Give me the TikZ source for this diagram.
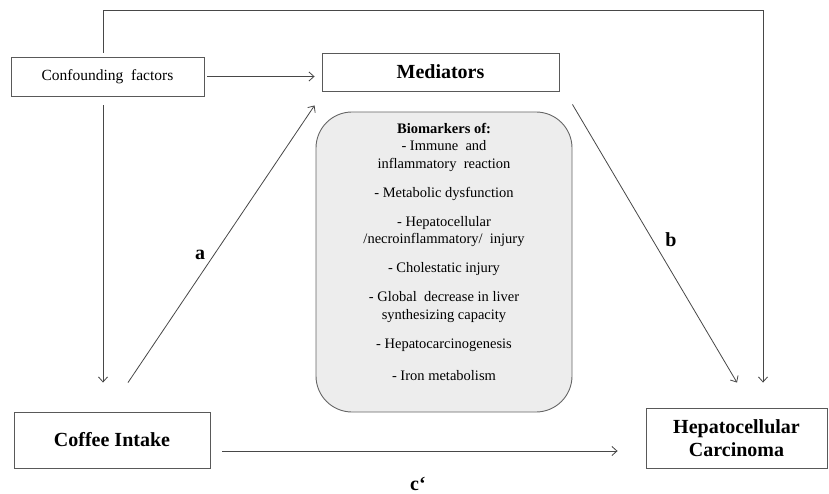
\documentclass[tikz,border=0pt]{standalone}
\usepackage{fontspec}
\setmainfont{Liberation Serif}
\usetikzlibrary{arrows.meta}

\tikzset{
  box/.style={draw=black!65, line width=0.9pt, inner sep=0pt, align=center},
  arr/.style={-{Straight Barb[length=5pt,width=9pt]}, draw=black!72, line width=0.8pt},
  big/.style={font=\fontsize{20}{23}\selectfont\bfseries},
}

\begin{document}
\begin{tikzpicture}[x=1pt,y=-1pt]
  \useasboundingbox (0,0) rectangle (829,494);
  % boxes
  \node[box, minimum width=193pt, minimum height=39pt, font=\fontsize{15.5}{18}\selectfont] (conf) at (107.5,76.5) {Confounding\ \ factors};
  \node[box, big, minimum width=237pt, minimum height=38pt] (med) at (440.5,72) {Mediators};
  \node[box, big, minimum width=196pt, minimum height=56pt] (coffee) at (112,440) {Coffee Intake};
  \node[box, big, minimum width=181pt, minimum height=60pt] (hcc) at (736.5,438) {Hepatocellular\\Carcinoma};
  \node[draw=black!60, line width=0.9pt, fill=black!7, rounded corners=36pt, minimum width=256pt, minimum height=300pt] (bio) at (444,262) {};
  \node[anchor=north, align=center, font=\fontsize{14.5}{17.5}\selectfont] (biotext) at ([yshift=-8pt]bio.north)
    {\textbf{Biomarkers of:}\\- Immune\ \ and\\inflammatory\ \ reaction\\[11.5pt]
     - Metabolic dysfunction\\[11.5pt]
     - Hepatocellular\\/necroinflammatory/\ \ injury\\[11.5pt]
     - Cholestatic injury\\[11.5pt]
     - Global\ \ decrease in liver\\synthesizing capacity\\[11.5pt]
     - Hepatocarcinogenesis\\[15pt]
     - Iron metabolism};
  % arrows
  \draw[arr] ([xshift=3pt]conf.east) -- ([xshift=-7pt]med.west |- conf.east);
  \draw[arr] ([xshift=-4.5pt,yshift=-9pt]conf.south) -- ([xshift=-9pt,yshift=29pt]coffee.north);
  \draw[arr] ([xshift=-4.5pt,yshift=4pt]conf.north) -- ++(0,-42) -| ([xshift=26.5pt,yshift=25pt]hcc.north);
  \draw[arr] ([xshift=16pt,yshift=29pt]coffee.north) -- ([xshift=-7pt,yshift=-14pt]med.south west);
  \draw[arr] ([xshift=13pt,yshift=-13pt]med.south east) -- ([xshift=0.5pt,yshift=25pt]hcc.north);
  \draw[arr] ([xshift=12pt,yshift=-11pt]coffee.east) coordinate (cstart) -- ([xshift=-28pt]hcc.west |- cstart);
  % path labels
  \node[big] (la) at (200,255) {a};
  \node[big] (lb) at (671,240) {b};
  \node[big] (lc) at (418,484) {c\textquoteleft};
\end{tikzpicture}
\end{document}
